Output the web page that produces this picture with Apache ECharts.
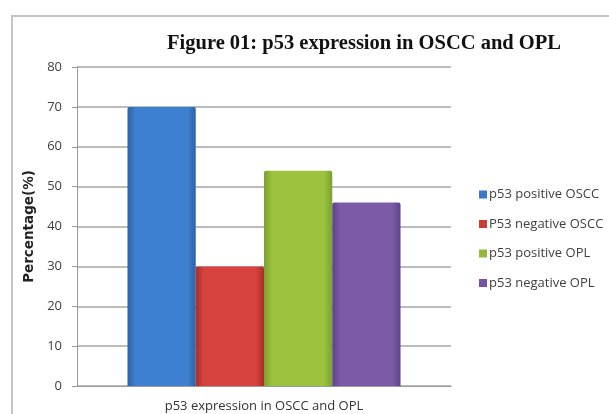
<!DOCTYPE html>
<html>
<head>
<meta charset="utf-8">
<script src="https://cdn.jsdelivr.net/npm/echarts@6/dist/echarts.min.js"></script>
<style>
  html, body { margin: 0; padding: 0; background: #ffffff; }
  #chart { width: 609px; height: 414px; }
</style>
</head>
<body>
<div id="chart"></div>
<script>
// p53 expression percentages in OSCC and OPL
const categories = ['p53 expression in OSCC and OPL'];
const seriesNames = ['p53 positive OSCC', 'P53 negative OSCC', 'p53 positive OPL', 'p53 negative OPL'];
const positiveOSCC = [70];
const negativeOSCC = [30];
const positiveOPL = [54];
const negativeOPL = [46];
const yTicks = [0, 10, 20, 30, 40, 50, 60, 70, 80];

// bevel-like shading: darker edges, lighter middle
function shade(edge, mid) {
  return new echarts.graphic.LinearGradient(0, 0, 1, 0, [
    { offset: 0, color: edge },
    { offset: 0.12, color: mid },
    { offset: 0.88, color: mid },
    { offset: 1, color: edge }
  ]);
}

const palette = [
  { edge: '#2c62a8', mid: '#3d80d2', legend: '#3b78c6' },
  { edge: '#a92e2a', mid: '#d6433e', legend: '#cc3b37' },
  { edge: '#7aa031', mid: '#9dc33e', legend: '#93b83a' },
  { edge: '#5c418a', mid: '#7c5aa8', legend: '#7453a0' }
];

const values = [positiveOSCC, negativeOSCC, positiveOPL, negativeOPL];

const chart = echarts.init(document.getElementById('chart'), null, { renderer: 'canvas' });

chart.setOption({
  animation: false,
  backgroundColor: '#ffffff',
  title: {
    text: 'Figure 01: p53 expression in OSCC and OPL',
    left: 359,
    top: 28,
    textAlign: 'center',
    textStyle: {
      fontFamily: '"Liberation Serif", "DejaVu Serif", serif',
      fontWeight: 'bold',
      fontSize: 20.5,
      color: '#111111'
    }
  },
  graphic: [{
    type: 'rect',
    shape: { x: 12, y: 16, width: 640, height: 440 },
    style: { fill: 'none', stroke: '#c4c4c4', lineWidth: 2 },
    silent: true,
    z: -1
  }],
  legend: {
    orient: 'vertical',
    left: 474,
    top: 183,
    itemWidth: 8,
    itemHeight: 8,
    itemGap: 16.5,
    icon: 'rect',
    data: seriesNames.map((n, i) => ({ name: n, itemStyle: { color: palette[i].legend } })),
    textStyle: {
      fontFamily: '"Open Sans", "Noto Sans", sans-serif',
      fontSize: 13,
      color: '#404040',
      padding: [0, 0, 0, -3]
    }
  },
  grid: {
    left: 77,
    right: 158,
    top: 67,
    bottom: 28,
    containLabel: false
  },
  xAxis: {
    type: 'category',
    data: categories,
    axisLine: { show: true, lineStyle: { color: '#9a9a9a', width: 1 } },
    axisTick: { show: false },
    axisLabel: {
      margin: 14,
      fontFamily: '"Open Sans", "Noto Sans", sans-serif',
      fontSize: 13,
      color: '#333333'
    }
  },
  yAxis: {
    type: 'value',
    min: yTicks[0],
    max: yTicks[yTicks.length - 1],
    interval: yTicks[1] - yTicks[0],
    name: 'Percentage(%)',
    nameLocation: 'middle',
    nameGap: 36,
    nameTextStyle: {
      fontFamily: '"DejaVu Sans", sans-serif',
      fontWeight: 'bold',
      fontSize: 13.5,
      color: '#222222'
    },
    axisLine: { show: true, lineStyle: { color: '#9a9a9a', width: 1 } },
    axisTick: { show: true, length: 5, lineStyle: { color: '#9a9a9a' } },
    splitLine: { show: true, lineStyle: { color: '#a6a6a6', width: 1.5 } },
    axisLabel: {
      margin: 15,
      fontFamily: '"Open Sans", "Noto Sans", sans-serif',
      fontSize: 13,
      color: '#404040'
    }
  },
  series: values.map((v, i) => ({
    name: seriesNames[i],
    type: 'bar',
    data: v,
    barGap: '0%',
    barCategoryGap: '27%',
    itemStyle: {
      color: shade(palette[i].edge, palette[i].mid),
      borderRadius: [2, 2, 0, 0]
    }
  }))
});
</script>
</body>
</html>
